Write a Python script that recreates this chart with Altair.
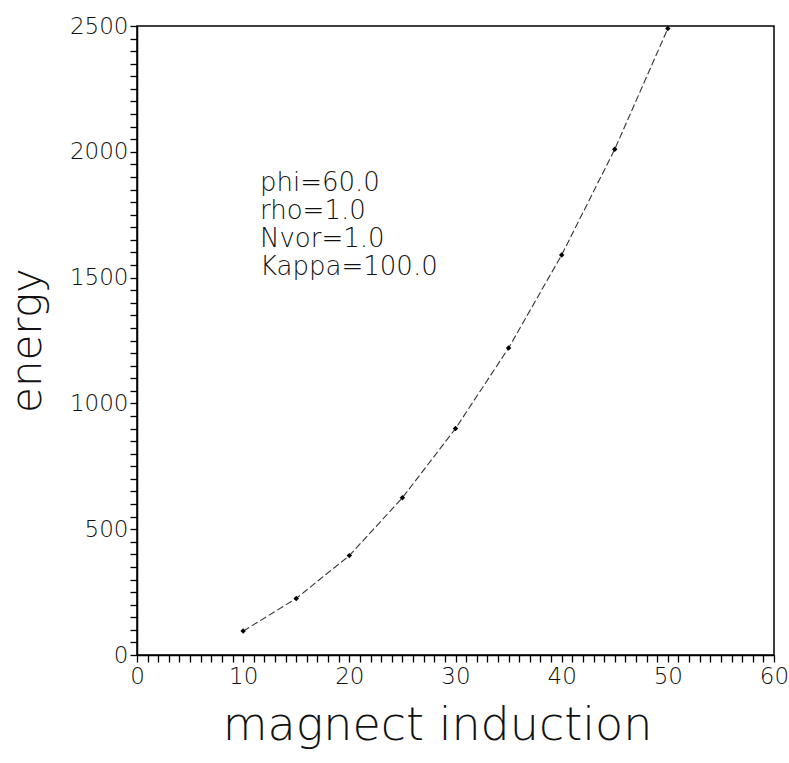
import altair as alt
import pandas as pd

# data
induction = [10, 15, 20, 25, 30, 35, 40, 45, 50]
energy = [95, 225, 395, 625, 900, 1220, 1590, 2010, 2490]
notes = ["phi=60.0", "rho=1.0", "Nvor=1.0", "Kappa=100.0"]
x_ticks = list(range(0, 61, 1))
y_ticks = list(range(0, 2501, 50))

df = pd.DataFrame({"induction": induction, "energy": energy})

FONT = "DejaVu Sans"

x_axis = alt.Axis(
    title="magnect induction",
    values=x_ticks,
    labelExpr="datum.value % 10 === 0 ? datum.label : ''",
    labelOverlap=False,
    labelFlush=False,
    grid=False,
    tickSize=7,
    tickColor="black",
    tickWidth=1.3,
    domainColor="black",
    domainWidth=1.5,
    labelFont=FONT,
    labelFontSize=23,
    labelFontWeight=200,
    labelColor="#111",
    labelPadding=3,
    titleFont=FONT,
    titleFontSize=46,
    titleFontWeight=200,
    titleColor="#111",
    titleX=300,
    titleY=70,
    titleBaseline="middle",
)

y_axis = alt.Axis(
    title="energy",
    values=y_ticks,
    labelExpr="datum.value % 500 === 0 ? datum.label : ''",
    labelOverlap=False,
    labelFlush=False,
    format="d",
    grid=False,
    tickSize=7,
    tickColor="black",
    tickWidth=1.3,
    domainColor="black",
    domainWidth=1.5,
    labelFont=FONT,
    labelFontSize=23,
    labelFontWeight=200,
    labelColor="#111",
    labelPadding=2,
    titleFont=FONT,
    titleFontSize=42,
    titleFontWeight=200,
    titleColor="#111",
    titleAngle=-90,
    titleX=-110,
    titleY=314,
    titleAlign="center",
    titleBaseline="middle",
)

base = alt.Chart(df).encode(
    x=alt.X("induction:Q", scale=alt.Scale(domain=[0, 60], nice=False), axis=x_axis),
    y=alt.Y("energy:Q", scale=alt.Scale(domain=[0, 2500], nice=False), axis=y_axis),
)

line = base.mark_line(color="#333", strokeWidth=1.1, strokeDash=[7, 3])
pts = base.mark_point(filled=True, shape="diamond", size=30, color="black", opacity=1)

text = alt.Chart(pd.DataFrame({"k": [0]})).mark_text(
    align="left",
    baseline="top",
    font=FONT,
    fontSize=26,
    fontWeight=200,
    lineHeight=28,
    color="#111",
).encode(x=alt.value(123), y=alt.value(144), text=alt.value(notes))

chart = (
    alt.layer(line, pts, text)
    .properties(
        width=637,
        height=629,
        autosize=alt.AutoSizeParams(type="none"),
        padding={"left": 137, "top": 26, "right": 15, "bottom": 108},
        background="white",
    )
    .configure_view(stroke="black", strokeWidth=1.5)
)

chart.save("out.html", embed_options={"renderer": "svg", "actions": False})
